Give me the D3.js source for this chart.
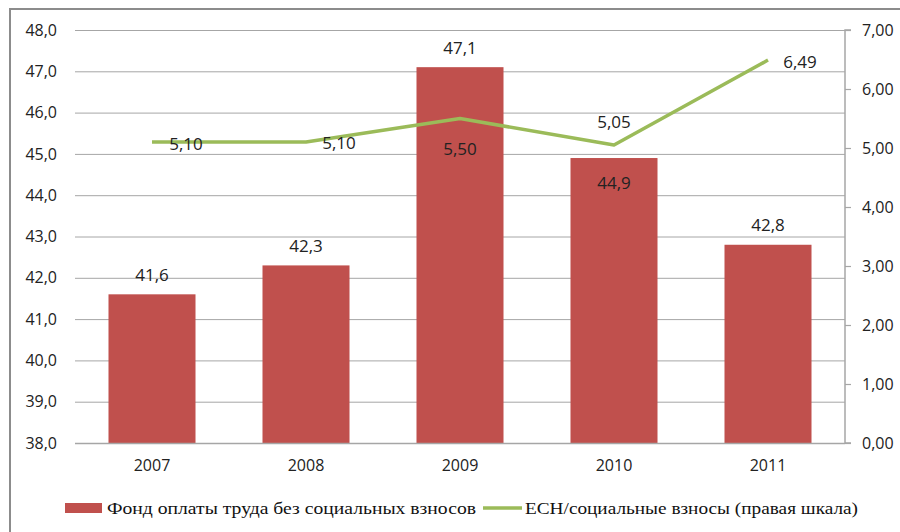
<!DOCTYPE html>
<html>
<head>
<meta charset="utf-8">
<script src="https://cdn.jsdelivr.net/npm/d3@7"></script>
<style>
  html, body { margin: 0; padding: 0; background: #fff; }
  svg { display: block; }
</style>
</head>
<body>
<svg id="chart" width="900" height="532"></svg>
<script>
// ---- data ----
const years = ["2007", "2008", "2009", "2010", "2011"];
const fundValues = [41.6, 42.3, 47.1, 44.9, 42.8];
const esnValues = [5.10, 5.10, 5.50, 5.05, 6.49];
const leftTicks = [38, 39, 40, 41, 42, 43, 44, 45, 46, 47, 48];
const rightTicks = [0, 1, 2, 3, 4, 5, 6, 7];
const seriesNames = ["Фонд оплаты труда без социальных взносов", "ЕСН/социальные взносы (правая шкала)"];

// ---- layout / style ----
const barColor = "#C0504D";
const lineColor = "#9BBB59";
const gridColor = "#A6A6A6";
const sans = "'Open Sans', 'Liberation Sans', sans-serif";
const serif = "'Liberation Serif', 'DejaVu Serif', serif";
const plot = { left: 75, right: 845, top: 30, bottom: 443 };

// label placement (dx, dy relative to anchor)
const barLabelOffset = [-20, -20, -20, 24, -20];
const lineLabelOffset = [[34, 1], [33, 0], [0, 30], [0, -24], [32, 1]];

const fmt1 = d => d3.format(".1f")(d).replace(".", ",");
const fmt2 = d => d3.format(".2f")(d).replace(".", ",");

const svg = d3.select("#chart");

// frame
svg.append("rect")
  .attr("x", 10).attr("y", 9).attr("width", 920).attr("height", 560)
  .attr("fill", "none").attr("stroke", "#8C8C8C").attr("stroke-width", 2);

const x = d3.scaleBand().domain(years).range([plot.left, plot.right])
  .paddingInner(0.435).paddingOuter(0.2175);
const yL = d3.scaleLinear().domain([38, 48]).range([plot.bottom, plot.top]);
const yR = d3.scaleLinear().domain([0, 7]).range([plot.bottom, plot.top]);
const cx = d => x(d) + x.bandwidth() / 2;

// gridlines
svg.append("g").selectAll("line").data(leftTicks.slice(1)).join("line")
  .attr("x1", plot.left).attr("x2", plot.right)
  .attr("y1", d => yL(d) + 0.5).attr("y2", d => yL(d) + 0.5)
  .attr("stroke", gridColor).attr("stroke-width", 1);

// left axis labels
const leftAxis = d3.axisLeft(yL).tickValues(leftTicks).tickFormat(fmt1).tickSize(0).tickPadding(18);
const gL = svg.append("g").attr("transform", `translate(${plot.left},0)`).call(leftAxis);
gL.select(".domain").remove();
gL.selectAll("text").attr("font-family", sans).attr("font-size", 16).attr("fill", "#222");

// bars
svg.append("g").selectAll("rect").data(years).join("rect")
  .attr("x", d => x(d)).attr("width", x.bandwidth())
  .attr("y", (d, i) => yL(fundValues[i]))
  .attr("height", (d, i) => plot.bottom - yL(fundValues[i]))
  .attr("fill", barColor);

// bottom axis
const bottomAxis = d3.axisBottom(x).tickSize(0).tickPadding(17);
const gB = svg.append("g").attr("transform", `translate(0,${plot.bottom})`).call(bottomAxis);
gB.select(".domain").attr("stroke", gridColor).attr("stroke-width", 1.5).attr("d", `M${plot.left},0.5H${plot.right}`);
gB.selectAll("text").attr("font-family", sans).attr("font-size", 16).attr("fill", "#222");

// right axis
const rightAxis = d3.axisRight(yR).tickValues(rightTicks).tickFormat(fmt2).tickSize(6).tickPadding(11);
const gR = svg.append("g").attr("transform", `translate(${plot.right},0)`).call(rightAxis);
gR.select(".domain").attr("stroke", gridColor).attr("stroke-width", 1.5).attr("d", `M6,${plot.top}H0V${plot.bottom}H6`);
gR.selectAll(".tick line").attr("stroke", gridColor).attr("stroke-width", 1.2);
gR.selectAll("text").attr("font-family", sans).attr("font-size", 16).attr("fill", "#222");

// line
const line = d3.line().x((d, i) => cx(years[i])).y(d => yR(d));
svg.append("path").datum(esnValues)
  .attr("d", line).attr("fill", "none")
  .attr("stroke", lineColor).attr("stroke-width", 3.5).attr("stroke-linejoin", "round");

// bar labels
svg.append("g").selectAll("text").data(years).join("text")
  .attr("x", d => cx(d))
  .attr("y", (d, i) => yL(fundValues[i]) + barLabelOffset[i])
  .attr("text-anchor", "middle").attr("dominant-baseline", "central")
  .attr("font-family", sans).attr("font-size", 17).attr("fill", "#222")
  .text((d, i) => fmt1(fundValues[i]));

// line labels
svg.append("g").selectAll("text").data(years).join("text")
  .attr("x", (d, i) => cx(d) + lineLabelOffset[i][0])
  .attr("y", (d, i) => yR(esnValues[i]) + lineLabelOffset[i][1])
  .attr("text-anchor", "middle").attr("dominant-baseline", "central")
  .attr("font-family", sans).attr("font-size", 17).attr("fill", "#222")
  .text((d, i) => fmt2(esnValues[i]));

// legend
const lg = svg.append("g");
lg.append("rect").attr("x", 65).attr("y", 503).attr("width", 37).attr("height", 10).attr("fill", barColor);
lg.append("text").attr("x", 107).attr("y", 508).attr("dominant-baseline", "central")
  .attr("font-family", serif).attr("font-size", 17).attr("fill", "#111")
  .attr("textLength", 369).attr("lengthAdjust", "spacingAndGlyphs")
  .text(seriesNames[0]);
lg.append("line").attr("x1", 483).attr("x2", 522).attr("y1", 508).attr("y2", 508)
  .attr("stroke", lineColor).attr("stroke-width", 3.5);
lg.append("text").attr("x", 525).attr("y", 508).attr("dominant-baseline", "central")
  .attr("font-family", serif).attr("font-size", 17).attr("fill", "#111")
  .attr("textLength", 333).attr("lengthAdjust", "spacingAndGlyphs")
  .text(seriesNames[1]);
</script>
</body>
</html>
